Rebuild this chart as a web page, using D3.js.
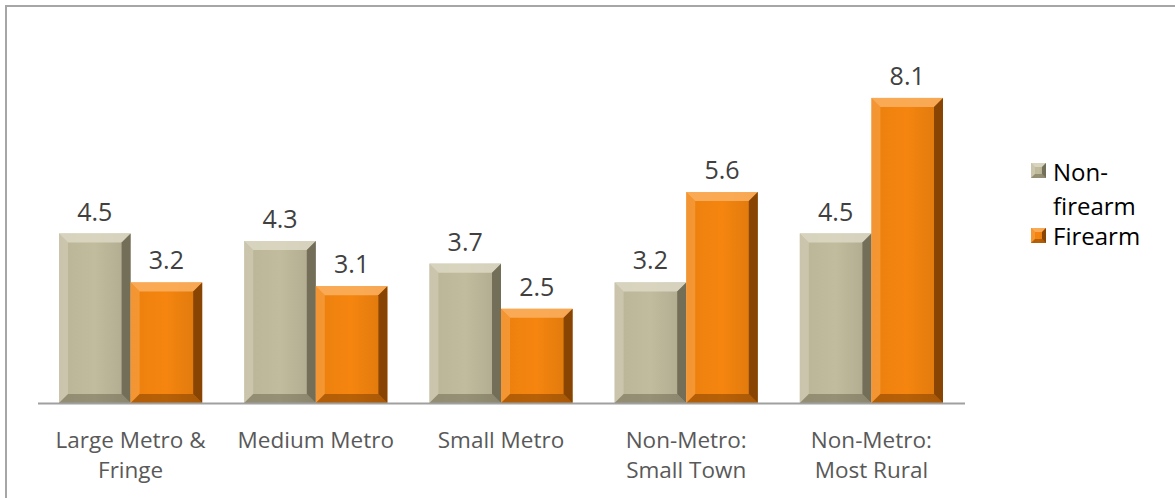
<!DOCTYPE html>
<html><head><meta charset="utf-8">
<script src="https://cdn.jsdelivr.net/npm/d3@7"></script>
<style>body{margin:0;background:#fff;}svg{display:block;}</style>
</head><body>
<script>
const categories = [["Large Metro &","Fringe"],["Medium Metro"],["Small Metro"],["Non-Metro:","Small Town"],["Non-Metro:","Most Rural"]];
const seriesNames = ["Non-firearm","Firearm"];
const nonFirearm = [4.5, 4.3, 3.7, 3.2, 4.5];
const firearm = [3.2, 3.1, 2.5, 5.6, 8.1];
const colors = ["#C2BC9E", "#F5850F"];
const dark = ["#5f5a45", "#6b3300"];
const light = ["#dcd8c4", "#fbb060"];

(function(){
const W=1175,H=498;
const svg=d3.select("body").append("svg").attr("width",W).attr("height",H);
svg.append("path").attr("d",`M6,${H+5} V6 H${W+5}`).attr("fill","none").attr("stroke","#a6a6a6").attr("stroke-width",2);

const left=38,right=964,base=403,plotTop=64;
const y=d3.scaleLinear().domain([0,9]).range([base,plotTop]);
const x0=d3.scaleBand().domain(d3.range(categories.length)).range([left,right]).padding(0);
const x1=d3.scaleBand().domain([0,1]).range([21,x0.bandwidth()-21]).padding(0);
const data=[nonFirearm,firearm];
const font="Open Sans, sans-serif";

const defs=svg.append("defs");
[0,1].forEach(s=>{
  const g=defs.append("linearGradient").attr("id","g"+s).attr("x1",0).attr("x2",1);
  g.append("stop").attr("offset","0").attr("stop-color",d3.color(colors[s]).darker(0.1));
  g.append("stop").attr("offset","0.5").attr("stop-color",colors[s]);
  g.append("stop").attr("offset","1").attr("stop-color",d3.color(colors[s]).darker(0.3));
});

function bevelBar(g,x,yt,w,h,s,bb){
  const b=Math.min(bb||9,h/2);
  g.append("rect").attr("x",x).attr("y",yt).attr("width",w).attr("height",h).attr("fill",`url(#g${s})`);
  g.append("path").attr("d",`M${x},${yt} H${x+w} L${x+w-b},${yt+b} H${x+b} Z`).attr("fill",light[s]).attr("opacity",0.85);
  g.append("path").attr("d",`M${x},${yt} L${x+b},${yt+b} V${yt+h-b} L${x},${yt+h} Z`).attr("fill",light[s]).attr("opacity",0.45);
  g.append("path").attr("d",`M${x+w},${yt} L${x+w-b},${yt+b} V${yt+h-b} L${x+w},${yt+h} Z`).attr("fill",dark[s]).attr("opacity",0.75);
  g.append("path").attr("d",`M${x},${yt+h} L${x+b},${yt+h-b} H${x+w-b} L${x+w},${yt+h} Z`).attr("fill",dark[s]).attr("opacity",0.45);
}

const bars=svg.append("g");
categories.forEach((c,i)=>{
  [0,1].forEach(s=>{
    const v=data[s][i];
    const bx=x0(i)+x1(s), bw=x1.bandwidth();
    bevelBar(bars,bx,y(v),bw,base-y(v),s);
    svg.append("text").attr("x",bx+bw/2).attr("y",y(v)-13).attr("text-anchor","middle")
      .attr("font-family",font).attr("font-size",25).attr("fill","#404040").text(v.toFixed(1));
  });
  const t=svg.append("text").attr("text-anchor","middle").attr("font-family",font).attr("font-size",22.5).attr("fill","#595959");
  c.forEach((line,k)=>t.append("tspan").attr("x",x0(i)+x0.bandwidth()/2).attr("y",448+k*30).text(line));
});

svg.append("line").attr("x1",left).attr("x2",right+1).attr("y1",base+0.5).attr("y2",base+0.5).attr("stroke","#a0a0a0").attr("stroke-width",2);

const lg=svg.append("g");
const items=[{s:0,lines:["Non-","firearm"],y:181,my:163},{s:1,lines:["Firearm"],y:245,my:228}];
items.forEach(it=>{
  bevelBar(lg,1031,it.my,15,15,it.s,4);
  const t=lg.append("text").attr("font-family",font).attr("font-size",24).attr("fill","#000");
  it.lines.forEach((l,k)=>t.append("tspan").attr("x",1053).attr("y",it.y+k*34).text(l));
});
})();
</script>
</body></html>
